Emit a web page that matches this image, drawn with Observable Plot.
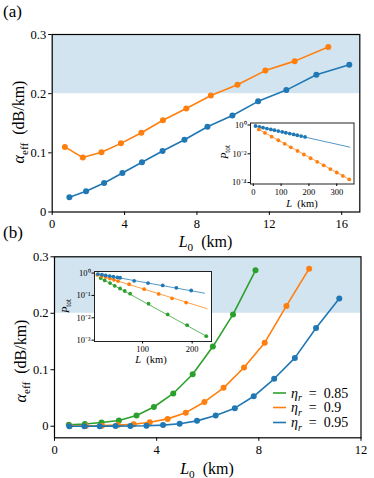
<!DOCTYPE html>
<html><head><meta charset="utf-8">
<script src="https://cdn.jsdelivr.net/npm/d3@7"></script>
<script src="https://cdn.jsdelivr.net/npm/@observablehq/plot@0.6"></script>
<style>
body{margin:0;background:#fff}
#wrap{position:relative;width:374px;height:478px;overflow:hidden;font-family:'Liberation Serif',serif;background:#fff}
.tag{position:absolute;font-family:'Liberation Serif',serif;font-size:17px;color:#000;line-height:1}
</style></head><body><div id="wrap"></div>
<script>
// ---------- data ----------
// Panel (a): alpha_eff vs L0
const aL0Blue = [0.95,1.87,2.87,3.88,4.96,6.1,7.31,8.58,9.96,11.38,12.94,14.6,16.42];
const aAlphaBlue = [0.025,0.035,0.049,0.066,0.084,0.103,0.122,0.144,0.163,0.187,0.206,0.232,0.249];
const aL0Orange = [0.7,1.69,2.72,3.8,4.93,6.12,7.41,8.77,10.24,11.78,13.4,15.26];
const aAlphaOrange = [0.11,0.092,0.101,0.116,0.134,0.155,0.175,0.197,0.215,0.239,0.255,0.279];
const aXTicks = [0,4,8,12,16];
const aYTicks = [0,0.1,0.2,0.3];
const band = [{lo:0.2, hi:0.3}];

// Inset (a): P_tot vs L
const iaLBlue = [8,22,35,49,63,76,90,104,117,131,145,158,172,186];
const iaPBlue = [0.851,0.745,0.650,0.569,0.497,0.435,0.379,0.332,0.290,0.254,0.221,0.194,0.169,0.148];
const iaLOrange = [20,42,66,90,113,135,159,182,206,230,253,277,300,322,345];
const iaPOrange = [0.49,0.28,0.155,0.087,0.049,0.028,0.0158,0.0089,0.0049,0.00275,0.00158,0.00087,0.0005,0.00029,0.000166];
const iaFitLBlue = [8,347], iaFitPBlue = [0.851,0.029];
const iaFitLOrange = [20,345], iaFitPOrange = [0.49,0.000166];
const iaXTicks = [0,100,200,300];
const iaYTicks = [1,1e-2,1e-4];

// Panel (b): alpha_eff vs L0 for eta_r
const bL0Green = [0.56,1.19,1.84,2.52,3.21,3.89,4.65,5.41,6.2,6.99,7.87];
const bAlphaGreen = [0.0025,0.004,0.0065,0.010,0.019,0.034,0.058,0.092,0.141,0.198,0.276];
const bL0Orange = [0.6,1.23,1.86,2.48,3.1,3.73,4.43,5.14,5.87,6.62,7.42,8.23,9.08,9.97];
const bAlphaOrange = [0.0003,0.0005,0.001,0.002,0.0035,0.007,0.013,0.024,0.043,0.068,0.104,0.148,0.213,0.279];
const bL0Blue = [0.58,1.17,1.77,2.39,2.97,3.6,4.25,4.9,5.58,6.31,7.06,7.8,8.6,9.41,10.24,11.15];
const bAlphaBlue = [0,0,0.0001,0.0002,0.0004,0.0008,0.002,0.0045,0.0095,0.019,0.032,0.053,0.084,0.121,0.174,0.226];
const bXTicks = [0,4,8,12];
const bYTicks = [0,0.1,0.2,0.3];
const etaLabels = ["0.85","0.9","0.95"];

// Inset (b)
const ibLBlue = [10,18,25.6,33.7,41.2,49.3,54.6,83,111,140.6,168,198];
const ibPBlue = [0.902,0.841,0.785,0.733,0.684,0.638,0.617,0.452,0.355,0.279,0.219,0.166];
const ibLOrange = [8.7,17.5,25.6,34.3,42.4,50.5,72.8,103.2,132.4,159.4,187.8];
const ibPOrange = [0.841,0.733,0.661,0.569,0.501,0.437,0.316,0.191,0.117,0.0741,0.0479];
const ibLGreen = [15.4,23.5,34.3,43.8,54.6,64,74.8,112,150.7,189.8,228.4];
const ibPGreen = [0.596,0.468,0.355,0.269,0.204,0.158,0.120,0.0427,0.0141,0.00468,0.00151];
const ibFitLBlue = [10,225], ibFitPBlue = [0.902,0.126];
const ibFitLOrange = [8.7,230], ibFitPOrange = [0.841,0.0257];
const ibFitLGreen = [15.4,228.4], ibFitPGreen = [0.596,0.00151];
const ibXTicks = [100,200];
const ibYTicks = [1,1e-1,1e-2,1e-3];

// ---------- helpers ----------
const FONT = "'Liberation Serif', serif";
const C = {blue:"#1f77b4", orange:"#ff7f0e", green:"#2ca02c"};
const zip = (xs, ys) => xs.map((x,i)=>({x, y: ys[i]}));
const wrap = document.getElementById("wrap");
const sup = {"0":"⁰","1":"¹","2":"²","3":"³","4":"⁴","-":"⁻"};
const logFmt = d => "10" + String(Math.round(Math.log10(d))).split("").map(c=>sup[c]).join("");
const decFmt = d => d === 0 ? "0" : d3.format(".1f")(d);

function place(svg, left, top){
  svg.style.position = "absolute";
  svg.style.left = left + "px";
  svg.style.top = top + "px";
  svg.style.overflow = "visible";
  svg.style.maxWidth = "none";
  svg.style.background = "transparent";
  svg.style.fontFamily = FONT;
  wrap.appendChild(svg);
  return svg;
}
function rich(svg, x, y, parts, {size=14, rotate=false, anchor="middle"} = {}){
  const t = d3.select(svg).append("text")
    .style("font-family", FONT).style("font-size", size + "px")
    .attr("text-anchor", anchor).attr("fill", "black");
  if (rotate) t.attr("transform", `translate(${x},${y}) rotate(-90)`);
  else t.attr("x", x).attr("y", y);
  let shift = 0;
  for (const p of parts){
    const s = t.append("tspan").text(p.t);
    if (p.i) s.style("font-style", "italic");
    const target = p.sub ? size*0.25 : 0;
    if (target !== shift){ s.attr("dy", target - shift); shift = target; }
    if (p.sub) s.style("font-size", (size*0.7) + "px");
  }
  return t;
}
const L0label = [{t:"L", i:true},{t:"0", sub:true},{t:"  (km)"}];
const alphaLabel = [{t:"α", i:true},{t:"eff", sub:true},{t:"  (dB/km)"}];
const Llabel = [{t:"L", i:true},{t:"  (km)"}];
const Plabel = [{t:"P", i:true},{t:"tot", sub:true}];

function mainMarks(series, xTicks, yTicks){
  const m = [Plot.rect(band, {y1:"lo", y2:"hi", fill:C.blue, fillOpacity:0.2})];
  for (const [data, col] of series){
    m.push(Plot.line(data, {x:"x", y:"y", stroke:col, strokeWidth:1.6}));
    m.push(Plot.dot(data, {x:"x", y:"y", fill:col, r:3}));
  }
  m.push(Plot.axisX({ticks:xTicks, tickSize:3.5, tickPadding:3.5, tickFormat:d=>String(d), label:null}));
  m.push(Plot.axisY({ticks:yTicks, tickSize:3.5, tickPadding:2.5, tickFormat:decFmt, label:null}));
  m.push(Plot.frame({stroke:"black", strokeWidth:1.2}));
  return m;
}
function insetMarks(points, fits, xTicks, yTicks){
  const m = [Plot.frame({fill:"white", stroke:"#222", strokeWidth:1})];
  for (const [data, col] of fits) m.push(Plot.line(data, {x:"x", y:"y", stroke:col, strokeWidth:1, strokeOpacity:0.75}));
  for (const [data, col] of points) m.push(Plot.dot(data, {x:"x", y:"y", fill:col, r:1.9}));
  m.push(Plot.axisX({ticks:xTicks, tickSize:2.5, tickPadding:2, tickFormat:d=>String(d), label:null}));
  m.push(Plot.axisY({ticks:yTicks, tickSize:2.5, tickPadding:1.5, tickFormat:logFmt, label:null}));
  return m;
}

// ---------- Panel (a) ----------
const svgA = Plot.plot({
  width:374, height:252,
  marginLeft:51.7, marginRight:14.7, marginTop:34, marginBottom:40.5,
  style:{fontFamily:FONT, fontSize:"12.5px", color:"black", background:"transparent"},
  x:{domain:[0,17]}, y:{domain:[0,0.3]},
  marks: mainMarks([[zip(aL0Blue,aAlphaBlue),C.blue],[zip(aL0Orange,aAlphaOrange),C.orange]], aXTicks, aYTicks)
});
place(svgA, 0, 0);
rich(svgA, 205.5, 246.5, L0label, {size:16});
rich(svgA, 23.5, 122, alphaLabel, {size:16, rotate:true});

// ---------- Panel (b) ----------
const svgB = Plot.plot({
  width:374, height:238,
  marginLeft:54, marginRight:13.5, marginTop:16.3, marginBottom:40.7,
  style:{fontFamily:FONT, fontSize:"12.5px", color:"black", background:"transparent"},
  x:{domain:[0,12]}, y:{domain:[-0.0205,0.3]},
  marks: mainMarks([[zip(bL0Green,bAlphaGreen),C.green],[zip(bL0Orange,bAlphaOrange),C.orange],[zip(bL0Blue,bAlphaBlue),C.blue]], bXTicks, bYTicks)
});
place(svgB, 0, 240);
rich(svgB, 207, 233.5, L0label, {size:16});
rich(svgB, 25.5, 121, alphaLabel, {size:16, rotate:true});
// legend
const legCols = [C.green, C.orange, C.blue];
const legY = [153, 167.5, 182.5];
legCols.forEach((col, i) => {
  d3.select(svgB).append("line").attr("x1",273).attr("x2",286).attr("y1",legY[i]).attr("y2",legY[i])
    .attr("stroke",col).attr("stroke-width",1.6);
  rich(svgB, 291, legY[i]+4.5, [{t:"η", i:true},{t:"r", i:true, sub:true},{t:"  =  " + etaLabels[i]}], {size:14, anchor:"start"});
});

// ---------- Inset (a) ----------
const svgIA = Plot.plot({
  width:150, height:100,
  marginLeft:35, marginRight:11.5, marginTop:9.5, marginBottom:29.5,
  style:{fontFamily:FONT, fontSize:"8.5px", color:"black", background:"transparent"},
  x:{domain:[-10,362]}, y:{type:"log", domain:[Math.pow(10,-4.1), Math.pow(10,0.14)]},
  marks: insetMarks(
    [[zip(iaLBlue,iaPBlue),C.blue],[zip(iaLOrange,iaPOrange),C.orange]],
    [[zip(iaFitLBlue,iaFitPBlue),C.blue],[zip(iaFitLOrange,iaFitPOrange),C.orange]],
    iaXTicks, iaYTicks)
});
place(svgIA, 215, 113);
rich(svgIA, 87, 93.5, Llabel, {size:10.5});
rich(svgIA, 12.5, 39, Plabel, {size:10.5, rotate:true});

// ---------- Inset (b) ----------
const svgIB = Plot.plot({
  width:165, height:110,
  marginLeft:39, marginRight:9, marginTop:9, marginBottom:31,
  style:{fontFamily:FONT, fontSize:"8.5px", color:"black", background:"transparent"},
  x:{domain:[3,239]}, y:{type:"log", domain:[Math.pow(10,-3.06), Math.pow(10,0.07)]},
  marks: insetMarks(
    [[zip(ibLGreen,ibPGreen),C.green],[zip(ibLOrange,ibPOrange),C.orange],[zip(ibLBlue,ibPBlue),C.blue]],
    [[zip(ibFitLGreen,ibFitPGreen),C.green],[zip(ibFitLOrange,ibFitPOrange),C.orange],[zip(ibFitLBlue,ibFitPBlue),C.blue]],
    ibXTicks, ibYTicks)
});
place(svgIB, 55, 262);
rich(svgIB, 96, 101, Llabel, {size:10.5});
rich(svgIB, 13.5, 44, Plabel, {size:10.5, rotate:true});

// ---------- panel tags ----------
for (const [txt, top] of [["(a)",3],["(b)",224]]){
  const d = document.createElement("div");
  d.className = "tag"; d.textContent = txt;
  d.style.left = "3px"; d.style.top = top + "px";
  wrap.appendChild(d);
}
</script></body></html>
